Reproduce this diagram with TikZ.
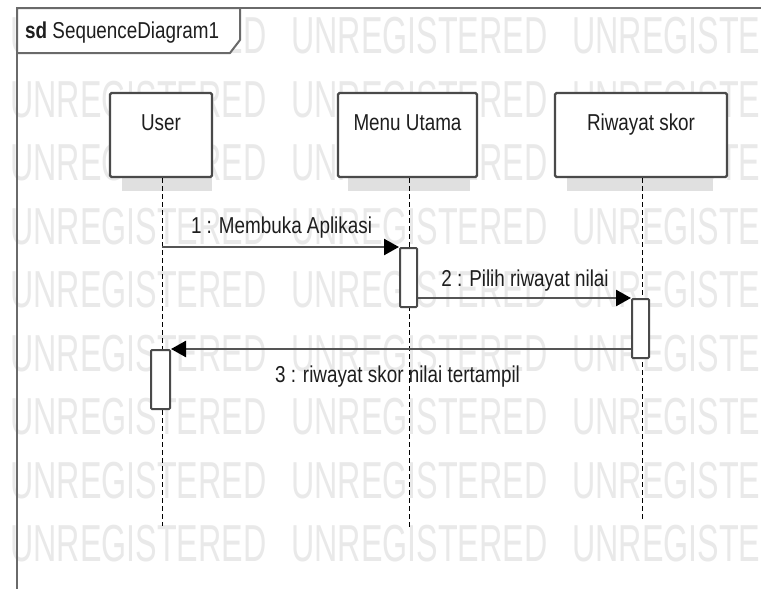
\documentclass[tikz,border=0pt]{standalone}
\usepackage{fontspec}
\setmainfont{Liberation Sans}
\newfontfamily\umlfont[FakeStretch=0.82]{Liberation Sans}
\newfontfamily\umlbold[FakeStretch=0.82]{Liberation Sans Bold}
\newfontfamily\wmfont[FakeStretch=0.62]{Liberation Sans}
\usetikzlibrary{arrows.meta}
\definecolor{frameline}{HTML}{6A6A6A}
\definecolor{boxline}{HTML}{4A4A4A}
\definecolor{msgline}{HTML}{555555}
\definecolor{wmgray}{HTML}{E9E9E9}
\definecolor{shadowgray}{HTML}{E0E0E0}
\definecolor{txt}{HTML}{1E1E1E}
\begin{document}
\begin{tikzpicture}[x=1pt,y=-1pt,
  umltext/.style={font=\umlfont\fontsize{23}{27}\selectfont, text=txt, inner sep=0pt},
  wmtext/.style={font=\wmfont\fontsize{52}{60}\selectfont, text=wmgray, inner sep=0pt, anchor=base west},
  lifebox/.style={draw=boxline, fill=white, line width=2.2pt, rounded corners=1.5pt,
    minimum height=84pt, inner sep=0pt},
  actbox/.style={draw=boxline, fill=white, line width=2pt, rounded corners=1pt,
    minimum height=59pt, inner sep=0pt},
  lifeline/.style={draw=black, line width=1pt, dash pattern=on 5pt off 3pt},
  msg/.style={draw=msgline, line width=2.5pt,
    -{Triangle[length=15pt,width=16pt,color=black,fill=black]}},
  frameedge/.style={draw=frameline, line width=2pt}
]
\useasboundingbox (0,0) rectangle (761,589);
\fill[white] (0,0) rectangle (761,589);

% watermark rows
\foreach \r in {0,...,8}{
  \foreach \c/\xx in {0/10,1/291,2/572}{
    \node[wmtext] (wm-\r-\c) at (\xx,53.5+63.5*\r) {UNREGISTERED};
  }
}

% frame with its name tab
\draw[frameedge] (17,589) -- (17,8) -- (761,8);
\filldraw[frameedge, fill=white, line join=round] (17,8) -- (240,8) -- (240,40) -- (230,53) -- (17,53) -- cycle;
\node[umltext, anchor=base west] (sdname) at (25,38) {{\umlbold sd} SequenceDiagram1};

% shadow bands under the lifeline heads
\fill[shadowgray] (122,178) rectangle (212,191);
\fill[shadowgray] (348,178) rectangle (470,191);
\fill[shadowgray] (567,178) rectangle (713,191);

% lifeline heads
\node[lifebox, minimum width=102pt] (user) at (161,135) {};
\node[lifebox, minimum width=139pt] (menu) at (407.5,135) {};
\node[lifebox, minimum width=172pt] (riwayat) at (641,135) {};
\node[umltext, anchor=base] (userlbl) at (161,130) {User};
\node[umltext, anchor=base] (menulbl) at (407.5,130) {Menu Utama};
\node[umltext, anchor=base] (riwayatlbl) at (641,130) {Riwayat skor};

% lifelines
\coordinate (userend) at (162,526);
\coordinate (menuend) at (409,530);
\coordinate (riwayatend) at (642,520);
\draw[lifeline] (userend |- user.south) -- (userend);
\draw[lifeline] (menuend |- menu.south) -- (menuend);
\draw[lifeline] (riwayatend |- riwayat.south) -- (riwayatend);

% activations
\node[actbox, minimum width=17pt] (actmenu) at (408.5,277.5) {};
\node[actbox, minimum width=17pt] (actriwayat) at (640.5,328.5) {};
\node[actbox, minimum width=19pt] (actuser) at (160.5,379.5) {};

% messages
\draw[msg] (userend |- actmenu.north) -- (actmenu.north west);
\draw[msg] (actmenu.east |- actriwayat.north) -- (actriwayat.north west);
\draw[msg] (actriwayat.west |- actuser.north) -- (actuser.north east);

\node[umltext, anchor=base] (m1) at (281.5,233) {1 : Membuka Aplikasi};
\node[umltext, anchor=base] (m2) at (525,286) {2 : Pilih riwayat nilai};
\node[umltext, anchor=base] (m3) at (397.5,382) {3 : riwayat skor nilai tertampil};
\end{tikzpicture}
\end{document}
